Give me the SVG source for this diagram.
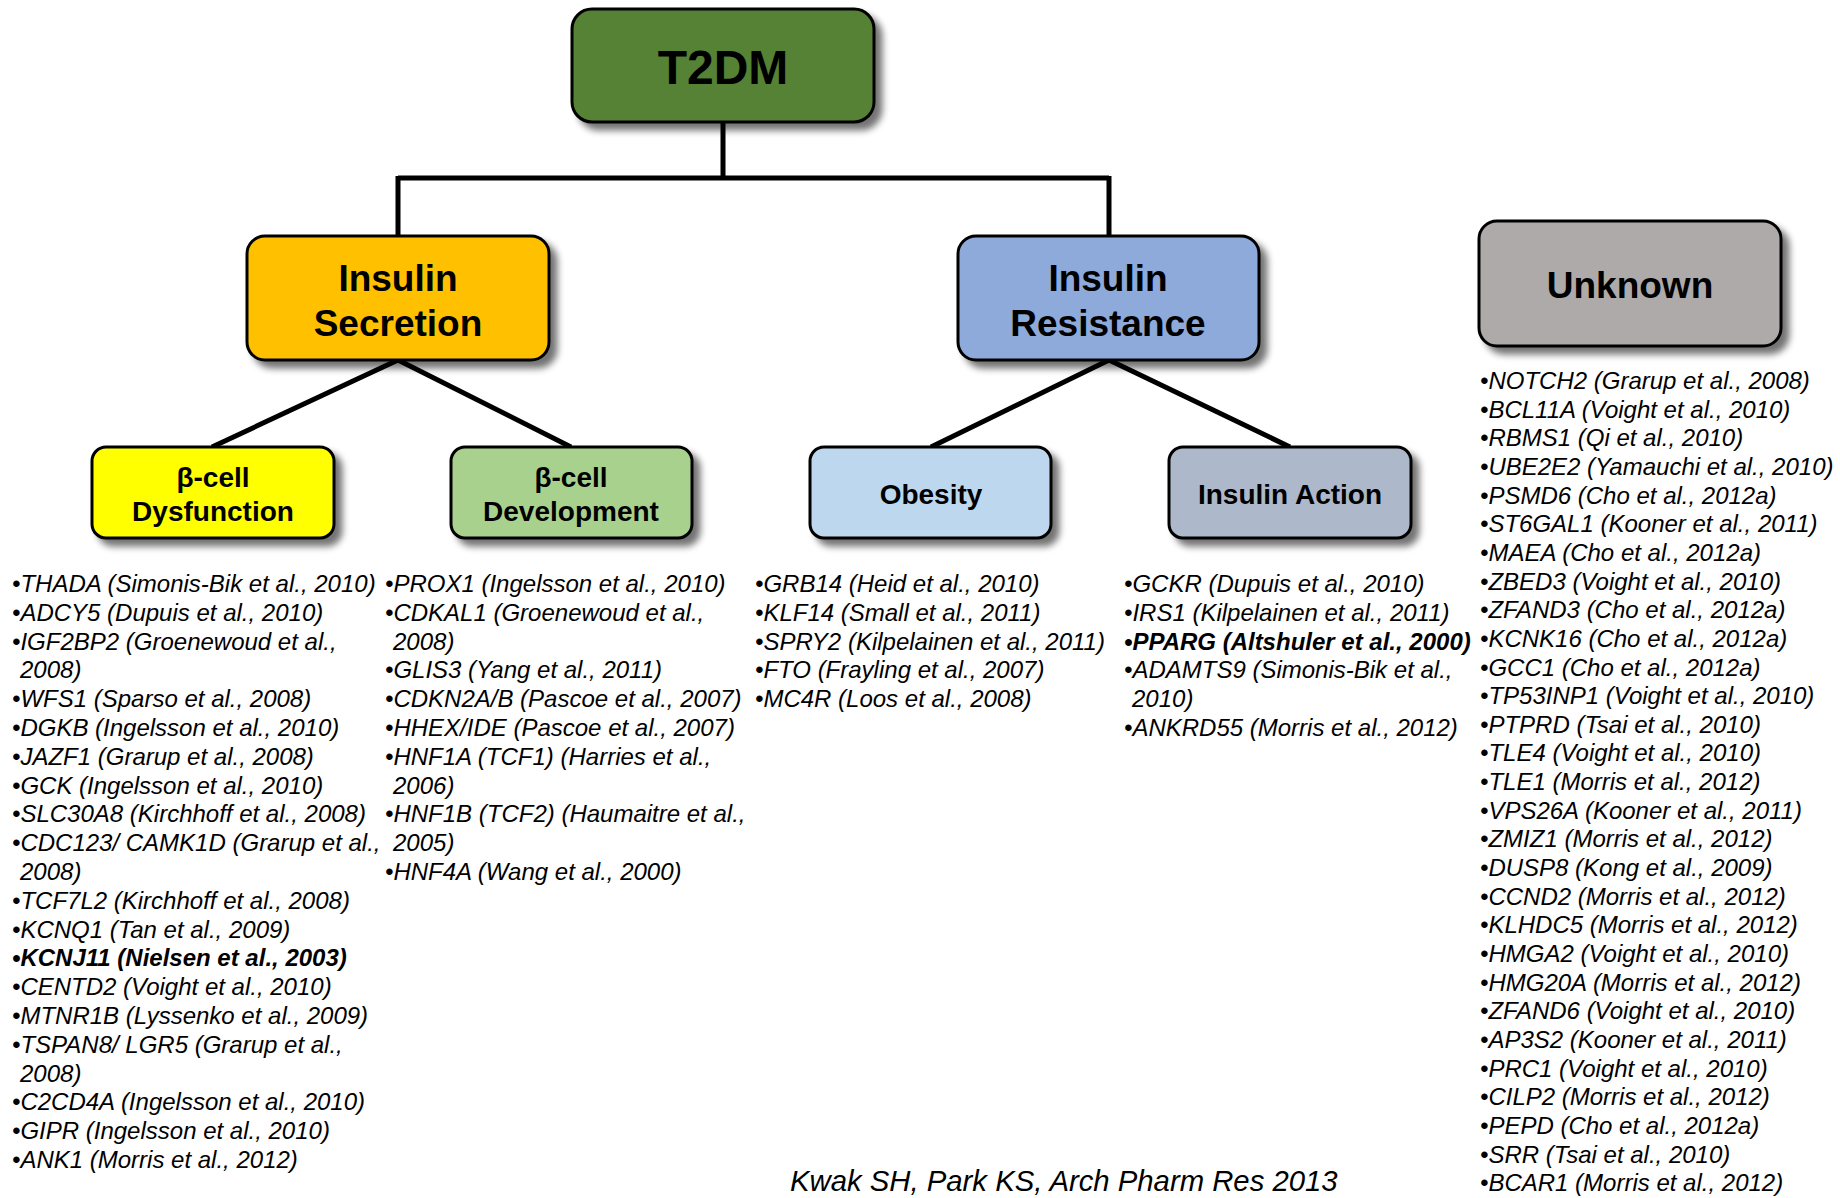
<svg xmlns="http://www.w3.org/2000/svg" width="1840" height="1198" viewBox="0 0 1840 1198">
<style>
.box{stroke:#000;stroke-width:3}
.bt{font-family:"Liberation Sans",Arial,sans-serif;font-weight:bold;fill:#000;text-anchor:middle}
.li{font-family:"Liberation Sans",Arial,sans-serif;font-style:italic;font-size:24px;fill:#000}
.b{font-weight:bold}
.conn{stroke:#000;stroke-width:5;fill:none}
</style>
<defs>
<filter id="sh" x="-10%" y="-10%" width="130%" height="140%">
<feGaussianBlur in="SourceAlpha" stdDeviation="3.5"/>
<feOffset dx="7" dy="7" result="o"/>
<feComponentTransfer><feFuncA type="linear" slope="0.55"/></feComponentTransfer>
<feMerge><feMergeNode/><feMergeNode in="SourceGraphic"/></feMerge>
</filter>
</defs>
<rect width="1840" height="1198" fill="#fff"/>
<g id="connectors">
<path class="conn" d="M723,122 V178 M398,178 H1109 M398,176 V236 M1109,176 V236"/>
<path class="conn" d="M398,360 L212,447 M398,360 L571,447"/>
<path class="conn" d="M1109,360 L931,447 M1109,360 L1290,447"/>
</g>
<g id="t2dm">
<rect class="box" x="572" y="9" width="302" height="113" rx="20" fill="#548235" filter="url(#sh)"/>
<text class="bt" x="723" y="84" font-size="48">T2DM</text>
</g>
<g id="insulin-secretion">
<rect class="box" x="247" y="236" width="302" height="124" rx="18" fill="#FFC000" filter="url(#sh)"/>
<text class="bt" x="398" y="291" font-size="37">Insulin</text>
<text class="bt" x="398" y="336" font-size="37">Secretion</text>
</g>
<g id="insulin-resistance">
<rect class="box" x="958" y="236" width="301" height="124" rx="18" fill="#8EAADB" filter="url(#sh)"/>
<text class="bt" x="1108" y="291" font-size="37">Insulin</text>
<text class="bt" x="1108" y="336" font-size="37">Resistance</text>
</g>
<g id="unknown">
<rect class="box" x="1479" y="221" width="302" height="125" rx="18" fill="#AEAAAA" filter="url(#sh)"/>
<text class="bt" x="1630" y="298" font-size="37">Unknown</text>
</g>
<g id="beta-dysfunction">
<rect class="box" x="92" y="447" width="242" height="91" rx="14" fill="#FFFF00" filter="url(#sh)"/>
<text class="bt" x="213" y="487" font-size="28">β-cell</text>
<text class="bt" x="213" y="521" font-size="28">Dysfunction</text>
</g>
<g id="beta-development">
<rect class="box" x="451" y="447" width="241" height="91" rx="14" fill="#A9D18E" filter="url(#sh)"/>
<text class="bt" x="571" y="487" font-size="28">β-cell</text>
<text class="bt" x="571" y="521" font-size="28">Development</text>
</g>
<g id="obesity">
<rect class="box" x="810" y="447" width="241" height="91" rx="14" fill="#BDD7EE" filter="url(#sh)"/>
<text class="bt" x="931" y="504" font-size="28">Obesity</text>
</g>
<g id="insulin-action">
<rect class="box" x="1169" y="447" width="242" height="91" rx="14" fill="#ADB9CA" filter="url(#sh)"/>
<text class="bt" x="1290" y="504" font-size="28">Insulin Action</text>
</g>
<g id="list-dysfunction" class="li">
<text x="12" y="592">•THADA (Simonis-Bik et al., 2010)</text>
<text x="12" y="620.8">•ADCY5 (Dupuis et al., 2010)</text>
<text x="12" y="649.6">•IGF2BP2 (Groenewoud et al.,</text>
<text x="20" y="678.4">2008)</text>
<text x="12" y="707.2">•WFS1 (Sparso et al., 2008)</text>
<text x="12" y="736">•DGKB (Ingelsson et al., 2010)</text>
<text x="12" y="764.8">•JAZF1 (Grarup et al., 2008)</text>
<text x="12" y="793.6">•GCK (Ingelsson et al., 2010)</text>
<text x="12" y="822.4">•SLC30A8 (Kirchhoff et al., 2008)</text>
<text x="12" y="851.2">•CDC123/ CAMK1D (Grarup et al.,</text>
<text x="20" y="880">2008)</text>
<text x="12" y="908.8">•TCF7L2 (Kirchhoff et al., 2008)</text>
<text x="12" y="937.6">•KCNQ1 (Tan et al., 2009)</text>
<text x="12" y="966.4" class="b">•KCNJ11 (Nielsen et al., 2003)</text>
<text x="12" y="995.2">•CENTD2 (Voight et al., 2010)</text>
<text x="12" y="1024">•MTNR1B (Lyssenko et al., 2009)</text>
<text x="12" y="1052.8">•TSPAN8/ LGR5 (Grarup et al.,</text>
<text x="20" y="1081.6">2008)</text>
<text x="12" y="1110.4">•C2CD4A (Ingelsson et al., 2010)</text>
<text x="12" y="1139.2">•GIPR (Ingelsson et al., 2010)</text>
<text x="12" y="1168">•ANK1 (Morris et al., 2012)</text>
</g>
<g id="list-development" class="li">
<text x="385" y="592">•PROX1 (Ingelsson et al., 2010)</text>
<text x="385" y="620.8">•CDKAL1 (Groenewoud et al.,</text>
<text x="393" y="649.6">2008)</text>
<text x="385" y="678.4">•GLIS3 (Yang et al., 2011)</text>
<text x="385" y="707.2">•CDKN2A/B (Pascoe et al., 2007)</text>
<text x="385" y="736">•HHEX/IDE (Pascoe et al., 2007)</text>
<text x="385" y="764.8">•HNF1A (TCF1) (Harries et al.,</text>
<text x="393" y="793.6">2006)</text>
<text x="385" y="822.4">•HNF1B (TCF2) (Haumaitre et al.,</text>
<text x="393" y="851.2">2005)</text>
<text x="385" y="880">•HNF4A (Wang et al., 2000)</text>
</g>
<g id="list-obesity" class="li">
<text x="755" y="592">•GRB14 (Heid et al., 2010)</text>
<text x="755" y="620.8">•KLF14 (Small et al., 2011)</text>
<text x="755" y="649.6">•SPRY2 (Kilpelainen et al., 2011)</text>
<text x="755" y="678.4">•FTO (Frayling et al., 2007)</text>
<text x="755" y="707.2">•MC4R (Loos et al., 2008)</text>
</g>
<g id="list-action" class="li">
<text x="1124" y="592">•GCKR (Dupuis et al., 2010)</text>
<text x="1124" y="620.8">•IRS1 (Kilpelainen et al., 2011)</text>
<text x="1124" y="649.6" class="b">•PPARG (Altshuler et al., 2000)</text>
<text x="1124" y="678.4">•ADAMTS9 (Simonis-Bik et al.,</text>
<text x="1132" y="707.2">2010)</text>
<text x="1124" y="736">•ANKRD55 (Morris et al., 2012)</text>
</g>
<g id="list-unknown" class="li">
<text x="1480" y="389">•NOTCH2 (Grarup et al., 2008)</text>
<text x="1480" y="417.65">•BCL11A (Voight et al., 2010)</text>
<text x="1480" y="446.3">•RBMS1 (Qi et al., 2010)</text>
<text x="1480" y="474.95">•UBE2E2 (Yamauchi et al., 2010)</text>
<text x="1480" y="503.6">•PSMD6 (Cho et al., 2012a)</text>
<text x="1480" y="532.25">•ST6GAL1 (Kooner et al., 2011)</text>
<text x="1480" y="560.9">•MAEA (Cho et al., 2012a)</text>
<text x="1480" y="589.55">•ZBED3 (Voight et al., 2010)</text>
<text x="1480" y="618.2">•ZFAND3 (Cho et al., 2012a)</text>
<text x="1480" y="646.85">•KCNK16 (Cho et al., 2012a)</text>
<text x="1480" y="675.5">•GCC1 (Cho et al., 2012a)</text>
<text x="1480" y="704.15">•TP53INP1 (Voight et al., 2010)</text>
<text x="1480" y="732.8">•PTPRD (Tsai et al., 2010)</text>
<text x="1480" y="761.45">•TLE4 (Voight et al., 2010)</text>
<text x="1480" y="790.1">•TLE1 (Morris et al., 2012)</text>
<text x="1480" y="818.75">•VPS26A (Kooner et al., 2011)</text>
<text x="1480" y="847.4">•ZMIZ1 (Morris et al., 2012)</text>
<text x="1480" y="876.05">•DUSP8 (Kong et al., 2009)</text>
<text x="1480" y="904.7">•CCND2 (Morris et al., 2012)</text>
<text x="1480" y="933.35">•KLHDC5 (Morris et al., 2012)</text>
<text x="1480" y="962">•HMGA2 (Voight et al., 2010)</text>
<text x="1480" y="990.65">•HMG20A (Morris et al., 2012)</text>
<text x="1480" y="1019.3">•ZFAND6 (Voight et al., 2010)</text>
<text x="1480" y="1047.95">•AP3S2 (Kooner et al., 2011)</text>
<text x="1480" y="1076.6">•PRC1 (Voight et al., 2010)</text>
<text x="1480" y="1105.25">•CILP2 (Morris et al., 2012)</text>
<text x="1480" y="1133.9">•PEPD (Cho et al., 2012a)</text>
<text x="1480" y="1162.55">•SRR (Tsai et al., 2010)</text>
<text x="1480" y="1191.2">•BCAR1 (Morris et al., 2012)</text>
</g>
<text x="790" y="1191" font-family="'Liberation Sans',Arial,sans-serif" font-style="italic" font-size="29.3">Kwak SH, Park KS, Arch Pharm Res 2013</text>
</svg>
